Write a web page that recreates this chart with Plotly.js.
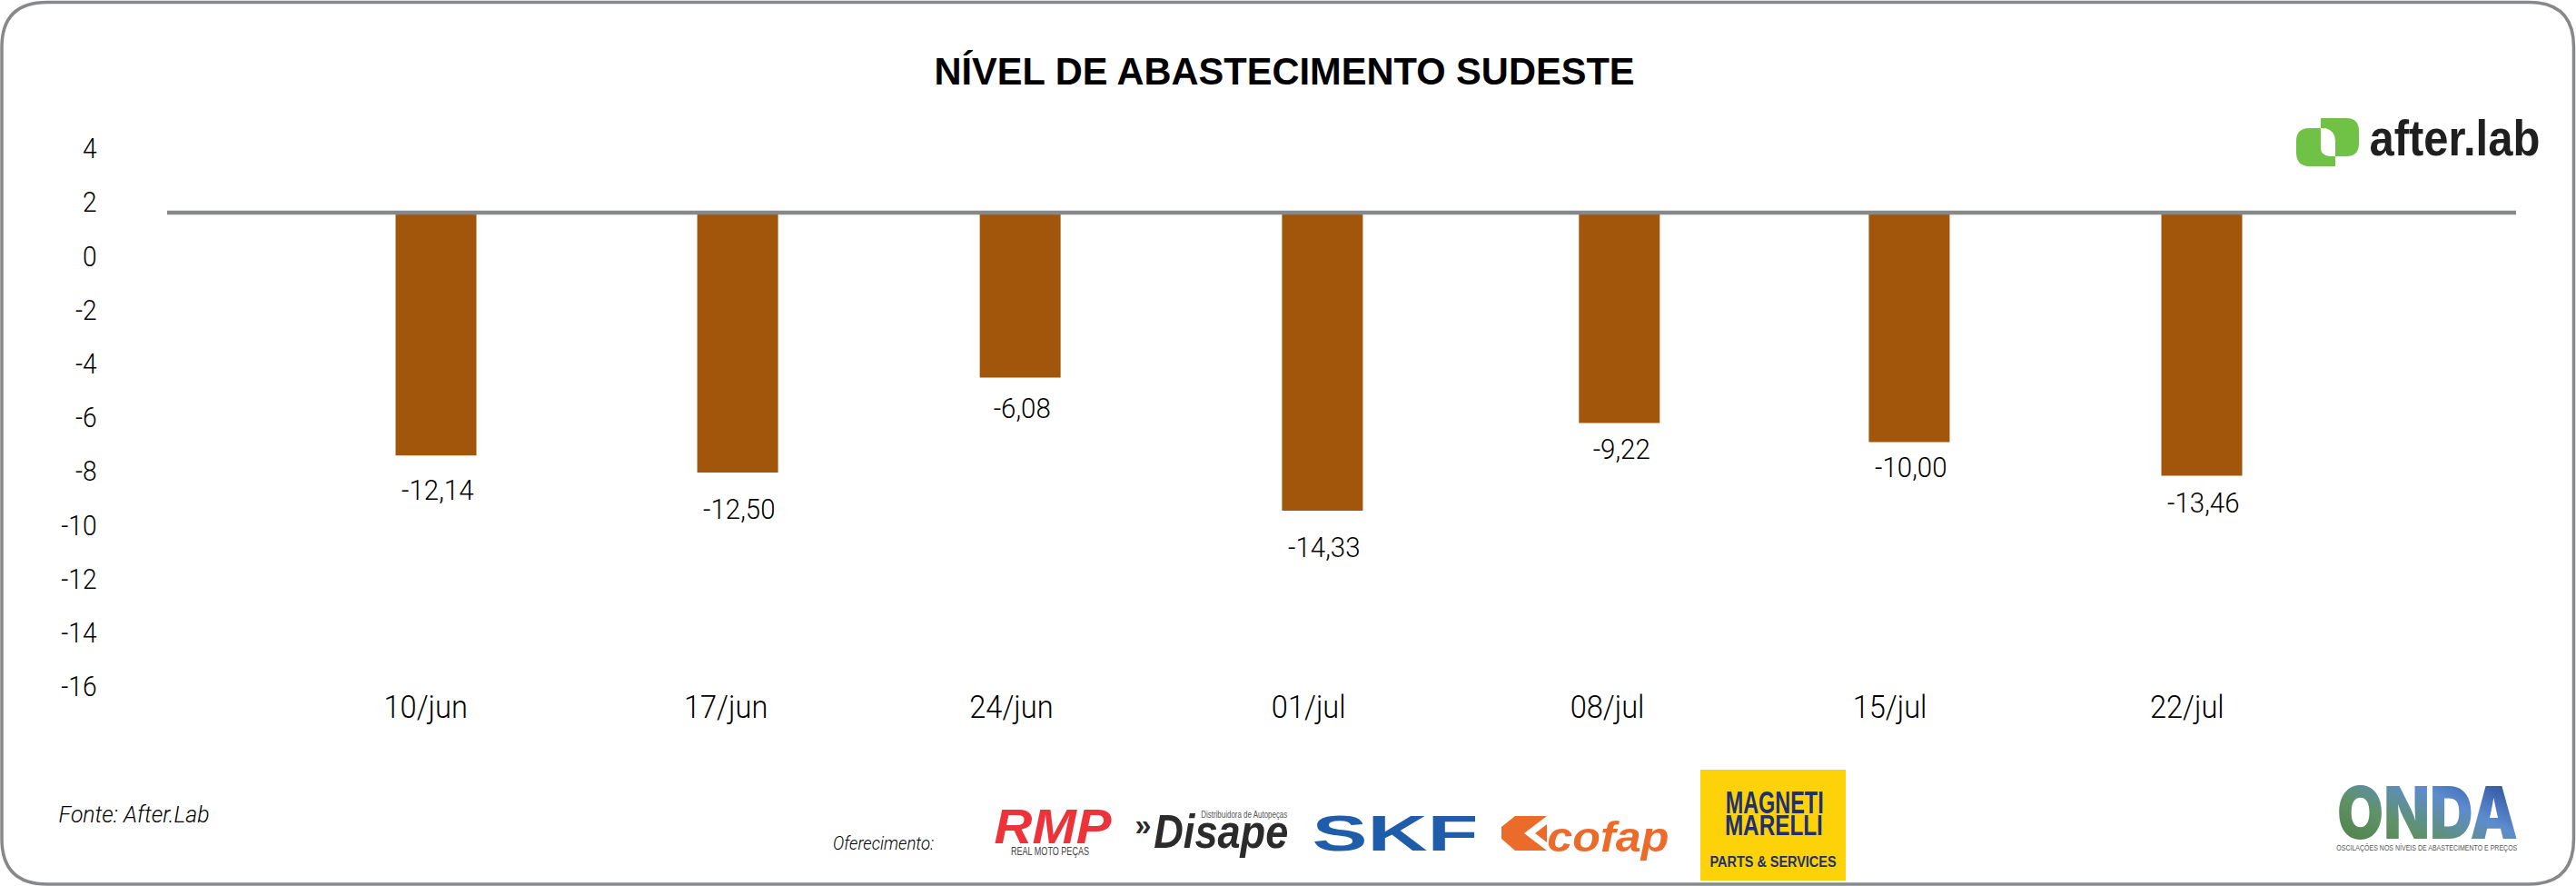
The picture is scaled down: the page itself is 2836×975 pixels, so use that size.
<!DOCTYPE html>
<html><head><meta charset="utf-8">
<script src="https://cdn.plot.ly/plotly-3.0.1.min.js"></script>
<style>html,body{margin:0;padding:0;background:#fff}#c{width:2836px;height:975px}</style>
</head><body><div id="c"></div>
<script>
// Values
const categories = ['10/jun','17/jun','24/jun','01/jul','08/jul','15/jul','22/jul'];
// printed labels (as shown on the reference)
const valueLabels = ['-12,14','-12,50','-6,08','-14,33','-9,22','-10,00','-13,46'];
// where each bar ends on the drawn y axis, and where the common baseline sits
const barEnds = [-7.43,-8.06,-4.53,-9.48,-6.22,-6.93,-8.18];
const baseline = 1.6;
const yTicks = [4,2,0,-2,-4,-6,-8,-10,-12,-14,-16];
// horizontal placement on the week axis
const weekPos = [0,1.025,1.985,3.012,4.021,5.006,6];
const tickPos = [-0.035,0.985,1.955,2.965,3.98,4.94,5.95];
// label distance below each bar end
const labelGap = [38,40.5,34,40,29,28,30];

const L=184,R=2770,T=163,B=755,W=2836,H=975;
const px=x=>(x-L)/(R-L), py=y=>(B-y)/(B-T);
const FONT='Roboto';
const BOLD='"Liberation Sans", Arial, sans-serif';

function note(text,x,y,size,color,o={}){
  return {text,x:px(x),y:py(y),xref:'paper',yref:'paper',showarrow:false,xanchor:o.a||'center',yanchor:'middle',
    font:{family:o.f||BOLD,size,color,weight:o.w||400,style:o.s||'normal'},borderpad:0};
}
function poly(path,color,layer){
  return {type:'path',xref:'paper',yref:'paper',path,fillcolor:color,line:{width:0},layer:layer||'above'};
}
function P(cmds){
  return cmds.map(c=>{
    const k=c[0],a=c.slice(1);let s=k;
    for(let i=0;i<a.length;i+=2){s+=(i?' ':'')+px(a[i]).toFixed(6)+','+py(a[i+1]).toFixed(6)+' ';}
    return s;
  }).join('')+'Z';
}
const frame={type:'path',xref:'paper',yref:'paper',layer:'below',fillcolor:'rgba(0,0,0,0)',line:{color:'#87888a',width:3.5},
  path:P([['M',52,2.5],['L',2784,2.5],['Q',2833.5,2.5,2833.5,52],['L',2833.5,923],['Q',2833.5,973,2784,973],['L',52,973],['Q',2,973,2,923],['L',2,52],['Q',2,2.5,52,2.5]])};
const gray={type:'line',xref:'paper',yref:'y',x0:0,x1:1,y0:baseline,y1:baseline,line:{color:'#87888a',width:4.5},layer:'above'};

const shapes=[frame,gray,
  poly(P([['M',2555,130],['L',2583,130],['Q',2597,130,2597,144],['L',2597,158],['Q',2597,172,2583,172],['L',2571,172],['L',2571,183],['L',2543,183],['Q',2528,183,2528,168],['L',2528,155],['Q',2528,141,2543,141],['L',2555,141]]),'#70c247'),
  poly(P([['M',2555,141],['L',2560,141],['Q',2571,144,2571,155],['L',2571,172],['L',2565,172],['Q',2555,171,2555,163]]),'#ffffff'),
  poly(P([['M',1668,898],['L',1703,898],['L',1678,917],['L',1703,936],['L',1668,936],['L',1653,923],['L',1653,910]]),'#eb6c2a'),
  poly(P([['M',1690,917],['L',1703,907],['L',1703,927]]),'#eb6c2a'),
  {type:'rect',xref:'paper',yref:'paper',x0:px(1872),x1:px(2032),y0:py(969),y1:py(847),fillcolor:'#fdd209',line:{width:0},layer:'below'}
];

const fit={'after.lab':188,'RMP':129,'REAL MOTO PEÇAS':86,'Disape':148,'Distribuidora de Autopeças':95,'SKF':183,'cofap':134,
  'MAGNETI':108,'MARELLI':108,'PARTS & SERVICES':139,'ONDA':199,'OSCILAÇÕES NOS NÍVEIS DE ABASTECIMENTO E PREÇOS':199,'Fonte: After.Lab':166,'Oferecimento:':111};

const annotations=[
  ...valueLabels.map((t,i)=>({text:t,x:weekPos[i],y:barEnds[i],xref:'x',yref:'y',yshift:-labelGap[i],xshift:2,showarrow:false,
    xanchor:'center',yanchor:'middle',font:{family:FONT,size:31,color:'#000',weight:300}})),
  note('Fonte: After.Lab',147,896,25,'#000',{f:FONT,s:'italic',w:300}),
  note('Oferecimento:',972,928,21,'#000',{f:FONT,s:'italic',w:300}),
  note('after.lab',2702,152,56,'#1f1f1f',{w:700}),
  note('RMP',1159,909,54,'#ee3239',{s:'italic',w:700}),
  note('REAL MOTO PEÇAS',1156,937,12,'#444',{}),
  note('»',1258,907,34,'#2b2b2b',{w:700}),
  note('Disape',1344,915,52,'#2b2b2b',{s:'italic',w:700}),
  note('Distribuidora de Autopeças',1370,896,10,'#555',{}),
  note('SKF',1536,916,56,'#1f5dab',{w:700}),
  note('cofap',1770,921,46,'#eb6c2a',{s:'italic',w:700}),
  note('MAGNETI',1953,882,35,'#1f3070',{w:700}),
  note('MARELLI',1953,908,31,'#1f3070',{w:700}),
  note('PARTS & SERVICES',1952,948,16,'#1f3070',{w:700}),
  note('ONDA',2672,893,80,'#4e7f45',{f:'Inter',w:900}),
  note('OSCILAÇÕES NOS NÍVEIS DE ABASTECIMENTO E PREÇOS',2672,932,9.5,'#555',{})
];

const trace={type:'bar',x:weekPos,y:barEnds.map(v=>v-baseline),base:baseline,width:0.2747,
  marker:{color:'#a2560c',line:{width:0}},hoverinfo:'skip',cliponaxis:false};

const layout={width:W,height:H,paper_bgcolor:'#fff',plot_bgcolor:'#fff',showlegend:false,
  margin:{l:L,r:W-R,t:T,b:H-B,pad:0},
  title:{text:'NÍVEL DE ABASTECIMENTO SUDESTE',x:1414/W,xref:'container',xanchor:'center',y:1-78/H,yref:'container',yanchor:'middle',
    font:{family:BOLD,size:41.6,color:'#000',weight:700}},
  xaxis:{type:'linear',range:[(L-480)/324,(R-480)/324],tickmode:'array',tickvals:tickPos,ticktext:categories,showgrid:false,zeroline:false,showline:false,
    ticks:'',ticklabelstandoff:-1,tickfont:{family:FONT,size:35,color:'#000',weight:300}},
  yaxis:{range:[-16,4],tickmode:'array',tickvals:yTicks,ticktext:yTicks.map(String),showgrid:false,zeroline:false,showline:false,
    ticks:'outside',ticklen:70,tickcolor:'rgba(0,0,0,0)',tickfont:{family:FONT,size:32,color:'#000',weight:300}},
  shapes,annotations};

Plotly.newPlot('c',[trace],layout,{displayModeBar:false,staticPlot:true}).then(gd=>{
  const svg=gd.querySelector('.main-svg');
  const ns='http://www.w3.org/2000/svg';
  const defs=document.createElementNS(ns,'defs');
  defs.innerHTML='<linearGradient id="ondaGrad" x1="0" y1="1" x2="1" y2="0"><stop offset="0" stop-color="#4b7d3f"/><stop offset="0.35" stop-color="#5f9268"/><stop offset="0.62" stop-color="#5d8ccf"/><stop offset="1" stop-color="#1a3a88"/></linearGradient>';
  svg.appendChild(defs);
  const squeeze=(t,k)=>{t.setAttribute('textLength',(t.getComputedTextLength()*k).toFixed(1));t.setAttribute('lengthAdjust','spacingAndGlyphs');};
  gd.querySelectorAll('.annotation-text').forEach(t=>{
    const s=t.textContent;
    if(fit[s]){t.setAttribute('textLength',fit[s]);t.setAttribute('lengthAdjust','spacingAndGlyphs');}
    else squeeze(t,0.95);
    if(s==='ONDA'){t.style.fill='url(#ondaGrad)';}
  });
  gd.querySelectorAll('.xtick text').forEach(t=>squeeze(t,0.93));
  gd.querySelectorAll('.ytick text').forEach(t=>squeeze(t,0.88));
});
</script></body></html>
